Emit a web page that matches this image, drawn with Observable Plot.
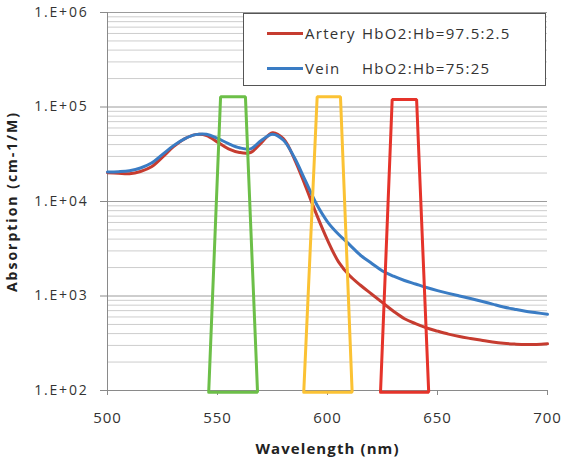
<!DOCTYPE html>
<html><head><meta charset="utf-8">
<script src="https://cdn.jsdelivr.net/npm/d3@7"></script>
<script src="https://cdn.jsdelivr.net/npm/@observablehq/plot@0.6"></script>
<style>
body{margin:0;background:#fff;}
#wrap{position:relative;width:567px;height:457px;}
#wrap svg{font-family:"Open Sans",sans-serif;}
g[aria-label="y-axis tick label"] text{letter-spacing:1.8px;}
g[aria-label="x-axis tick label"] text{letter-spacing:1px;}
g[aria-label="y-axis label"] text{font-weight:bold;font-size:14px;letter-spacing:2px;fill:#222;}
g[aria-label="x-axis label"] text{font-weight:bold;font-size:15px;letter-spacing:1.1px;fill:#222;}
.legend{position:absolute;left:243px;top:13px;width:303px;height:73px;border:1.5px solid #555;background:#fff;box-sizing:border-box;font-family:"Open Sans",sans-serif;font-size:15px;color:#333;letter-spacing:1.3px;}
.row{position:absolute;left:0;height:20px;line-height:20px;}
.sw{position:absolute;left:23px;top:9px;width:36px;height:3px;}
.nm{position:absolute;left:61px;top:0;white-space:nowrap;}
.rt{position:absolute;left:118px;top:0;white-space:nowrap;}
</style></head>
<body><div id="wrap"></div>
<script>
const wavelengths = [500,505,510,515,520,525,530,535,540,545,550,555,560,565,570,575,580,585,590,595,600,605,610,615,620,625,630,635,640,645,650,655,660,665,670,675,680,685,690,695,700];
const artery = [20200,19900,19700,20800,23300,29500,38000,46000,51000,50000,42500,36000,33000,33000,42000,53500,46000,28000,14500,7300,3900,2300,1650,1300,1050,850,690,575,510,460,425,395,372,355,340,326,316,310,306,307,312];
const vein = [20500,20700,21200,22600,25500,31500,39000,46000,51000,51500,46500,41000,37000,36000,44500,51500,44500,29000,16500,9400,6100,4500,3500,2700,2220,1840,1620,1460,1340,1230,1140,1065,1000,940,880,820,765,725,690,665,640];
const seriesNames = ["Artery", "Vein"];
const seriesRatios = ["HbO2:Hb=97.5:2.5", "HbO2:Hb=75:25"];
const seriesColors = ["#c63c30", "#3a7cc4"];

const filterColors = ["#6cbf48", "#fbc234", "#e5332a"];
const filterBottomLeft = [546, 589.2, 624.1];
const filterTopLeft = [551.4, 595.3, 629.4];
const filterTopRight = [562.7, 605.9, 640.5];
const filterBottomRight = [568.2, 611.2, 646];
const filterTop = [128000, 128000, 120000];
const filterBottom = [96, 96, 96];

const xTicks = [500, 550, 600, 650, 700];
const yTicks = [100, 1000, 10000, 100000, 1000000];
const yTickLabels = ["1.E+02", "1.E+03", "1.E+04", "1.E+05", "1.E+06"];
const minorMultipliers = [2,3,4,5,6,7,8,9];

const minorTicks = [];
for (const d of yTicks.slice(0, -1)) for (const m of minorMultipliers) minorTicks.push(d * m);

const curveData = [];
[artery, vein].forEach((arr, s) => arr.forEach((v, i) => curveData.push({s, x: wavelengths[i], y: v})));

const filterData = [];
filterColors.forEach((c, i) => {
  const pts = [[filterBottomLeft[i], filterBottom[i]], [filterTopLeft[i], filterTop[i]], [filterTopRight[i], filterTop[i]], [filterBottomRight[i], filterBottom[i]], [filterBottomLeft[i], filterBottom[i]]];
  pts.forEach(([x, y]) => filterData.push({f: i, x, y}));
});

const plot = Plot.plot({
  width: 567, height: 457,
  marginLeft: 107, marginRight: 20, marginTop: 12, marginBottom: 67,
  style: {fontFamily: "Open Sans, sans-serif", fontSize: "14px", color: "#333", background: "#fff"},
  x: {domain: [500, 700]},
  y: {type: "log", domain: [100, 1e6]},
  marks: [
    Plot.ruleY(minorTicks, {stroke: "#cdcdcd", strokeWidth: 1}),
    Plot.ruleY(yTicks, {stroke: "#9c9c9c", strokeWidth: 1}),
    Plot.ruleX([500], {stroke: "#8a8a8a"}),
    Plot.ruleY([100], {stroke: "#8a8a8a"}),
    Plot.axisY({ticks: yTicks, tickFormat: (d) => yTickLabels[yTicks.indexOf(d)], tickSize: 7, tickPadding: 12, stroke: "#8a8a8a", fill: "#333", fontSize: 14,
      label: "Absorption (cm-1/M)", labelAnchor: "center", labelArrow: "none", labelOffset: 100}),
    Plot.axisX({ticks: xTicks, tickSize: 5, tickPadding: 17, stroke: "#8a8a8a", fill: "#333", fontSize: 15,
      label: "Wavelength (nm)", labelAnchor: "center", labelArrow: "none", labelOffset: 63}),
    Plot.line(curveData, {x: "x", y: "y", z: "s", stroke: (d) => seriesColors[d.s], strokeWidth: 3, curve: "catmull-rom"}),
    Plot.line(filterData, {x: "x", y: "y", z: "f", stroke: (d) => filterColors[d.f], strokeWidth: 3, strokeLinejoin: "miter", curve: "linear"})
  ]
});
const wrap = document.getElementById("wrap");
wrap.appendChild(plot);

const legend = document.createElement("div");
legend.className = "legend";
const rowTops = [9, 44];
seriesNames.forEach((n, i) => {
  const row = document.createElement("div");
  row.className = "row";
  row.style.top = rowTops[i] + "px";
  row.style.width = "100%";
  row.innerHTML = `<div class="sw" style="background:${seriesColors[i]}"></div><span class="nm">${n}</span><span class="rt">${seriesRatios[i]}</span>`;
  legend.appendChild(row);
});
wrap.appendChild(legend);
</script></body></html>
